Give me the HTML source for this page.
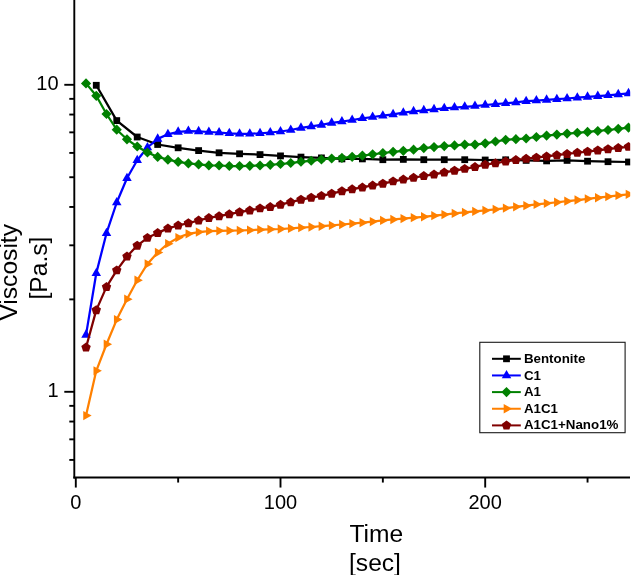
<!DOCTYPE html>
<html><head><meta charset="utf-8"><title>Viscosity vs Time</title>
<style>html,body{margin:0;padding:0;background:#fff}body{width:631px;height:575px;overflow:hidden}</style></head>
<body>
<svg width="631" height="575" viewBox="0 0 631 575" style="display:block;font-family:'Liberation Sans',sans-serif;will-change:transform">
<rect width="631" height="575" fill="#ffffff"/>
<defs><clipPath id="pc"><rect x="0" y="0" width="630.2" height="575"/></clipPath></defs><g clip-path="url(#pc)">
<path d="M96.27,85.30 L116.74,120.60 L137.21,137.00 L157.68,144.50 L178.15,147.80 L198.62,150.60 L219.09,152.80 L239.56,153.80 L260.03,154.60 L280.50,155.90 L300.97,157.10 L321.44,157.90 L341.91,158.90 L362.38,158.90 L382.85,159.70 L403.32,159.40 L423.79,159.70 L444.26,159.70 L464.73,159.70 L485.20,160.00 L505.67,159.80 L526.14,160.40 L546.61,160.90 L567.08,160.40 L587.55,161.20 L608.02,161.70 L628.49,162.00" fill="none" stroke="#000000" stroke-width="2.25" stroke-linejoin="round"/>
<rect x="92.87" y="81.90" width="6.8" height="6.8" fill="#000000"/>
<rect x="113.34" y="117.20" width="6.8" height="6.8" fill="#000000"/>
<rect x="133.81" y="133.60" width="6.8" height="6.8" fill="#000000"/>
<rect x="154.28" y="141.10" width="6.8" height="6.8" fill="#000000"/>
<rect x="174.75" y="144.40" width="6.8" height="6.8" fill="#000000"/>
<rect x="195.22" y="147.20" width="6.8" height="6.8" fill="#000000"/>
<rect x="215.69" y="149.40" width="6.8" height="6.8" fill="#000000"/>
<rect x="236.16" y="150.40" width="6.8" height="6.8" fill="#000000"/>
<rect x="256.63" y="151.20" width="6.8" height="6.8" fill="#000000"/>
<rect x="277.10" y="152.50" width="6.8" height="6.8" fill="#000000"/>
<rect x="297.57" y="153.70" width="6.8" height="6.8" fill="#000000"/>
<rect x="318.04" y="154.50" width="6.8" height="6.8" fill="#000000"/>
<rect x="338.51" y="155.50" width="6.8" height="6.8" fill="#000000"/>
<rect x="358.98" y="155.50" width="6.8" height="6.8" fill="#000000"/>
<rect x="379.45" y="156.30" width="6.8" height="6.8" fill="#000000"/>
<rect x="399.92" y="156.00" width="6.8" height="6.8" fill="#000000"/>
<rect x="420.39" y="156.30" width="6.8" height="6.8" fill="#000000"/>
<rect x="440.86" y="156.30" width="6.8" height="6.8" fill="#000000"/>
<rect x="461.33" y="156.30" width="6.8" height="6.8" fill="#000000"/>
<rect x="481.80" y="156.60" width="6.8" height="6.8" fill="#000000"/>
<rect x="502.27" y="156.40" width="6.8" height="6.8" fill="#000000"/>
<rect x="522.74" y="157.00" width="6.8" height="6.8" fill="#000000"/>
<rect x="543.21" y="157.50" width="6.8" height="6.8" fill="#000000"/>
<rect x="563.68" y="157.00" width="6.8" height="6.8" fill="#000000"/>
<rect x="584.15" y="157.80" width="6.8" height="6.8" fill="#000000"/>
<rect x="604.62" y="158.30" width="6.8" height="6.8" fill="#000000"/>
<rect x="625.09" y="158.60" width="6.8" height="6.8" fill="#000000"/>

<path d="M86.03,334.90 L96.27,273.20 L106.50,233.20 L116.74,202.50 L126.97,178.30 L137.21,160.30 L147.44,147.50 L157.68,138.90 L167.92,134.30 L178.15,131.90 L188.38,131.10 L198.62,131.40 L208.86,132.00 L219.09,132.50 L229.32,133.30 L239.56,133.80 L249.80,133.80 L260.03,133.30 L270.26,132.50 L280.50,131.50 L290.74,130.00 L300.97,127.90 L311.21,126.40 L321.44,124.90 L331.68,122.90 L341.91,121.60 L352.15,120.00 L362.38,118.30 L372.62,117.00 L382.85,115.70 L393.09,114.40 L403.32,112.70 L413.56,111.40 L423.79,110.40 L434.03,109.40 L444.26,108.30 L454.50,107.60 L464.73,106.80 L474.97,106.10 L485.20,105.00 L495.44,104.22 L505.67,103.25 L515.90,102.40 L526.14,101.20 L536.38,100.53 L546.61,99.90 L556.85,99.22 L567.08,98.50 L577.32,97.71 L587.55,96.90 L597.78,96.12 L608.02,95.30 L618.25,94.39 L628.49,93.40" fill="none" stroke="#0000ff" stroke-width="2.25" stroke-linejoin="round"/>
<polygon points="86.03,329.37 90.78,337.67 81.28,337.67" fill="#0000ff"/>
<polygon points="96.27,267.67 101.02,275.97 91.52,275.97" fill="#0000ff"/>
<polygon points="106.50,227.67 111.25,235.97 101.75,235.97" fill="#0000ff"/>
<polygon points="116.74,196.97 121.49,205.27 111.99,205.27" fill="#0000ff"/>
<polygon points="126.97,172.77 131.72,181.07 122.22,181.07" fill="#0000ff"/>
<polygon points="137.21,154.77 141.96,163.07 132.46,163.07" fill="#0000ff"/>
<polygon points="147.44,141.97 152.19,150.27 142.69,150.27" fill="#0000ff"/>
<polygon points="157.68,133.37 162.43,141.67 152.93,141.67" fill="#0000ff"/>
<polygon points="167.92,128.77 172.67,137.07 163.17,137.07" fill="#0000ff"/>
<polygon points="178.15,126.37 182.90,134.67 173.40,134.67" fill="#0000ff"/>
<polygon points="188.38,125.57 193.13,133.87 183.63,133.87" fill="#0000ff"/>
<polygon points="198.62,125.87 203.37,134.17 193.87,134.17" fill="#0000ff"/>
<polygon points="208.86,126.47 213.61,134.77 204.11,134.77" fill="#0000ff"/>
<polygon points="219.09,126.97 223.84,135.27 214.34,135.27" fill="#0000ff"/>
<polygon points="229.32,127.77 234.07,136.07 224.57,136.07" fill="#0000ff"/>
<polygon points="239.56,128.27 244.31,136.57 234.81,136.57" fill="#0000ff"/>
<polygon points="249.80,128.27 254.55,136.57 245.05,136.57" fill="#0000ff"/>
<polygon points="260.03,127.77 264.78,136.07 255.28,136.07" fill="#0000ff"/>
<polygon points="270.26,126.97 275.01,135.27 265.51,135.27" fill="#0000ff"/>
<polygon points="280.50,125.97 285.25,134.27 275.75,134.27" fill="#0000ff"/>
<polygon points="290.74,124.47 295.49,132.77 285.99,132.77" fill="#0000ff"/>
<polygon points="300.97,122.37 305.72,130.67 296.22,130.67" fill="#0000ff"/>
<polygon points="311.21,120.87 315.96,129.17 306.46,129.17" fill="#0000ff"/>
<polygon points="321.44,119.37 326.19,127.67 316.69,127.67" fill="#0000ff"/>
<polygon points="331.68,117.37 336.43,125.67 326.93,125.67" fill="#0000ff"/>
<polygon points="341.91,116.07 346.66,124.37 337.16,124.37" fill="#0000ff"/>
<polygon points="352.15,114.47 356.90,122.77 347.40,122.77" fill="#0000ff"/>
<polygon points="362.38,112.77 367.13,121.07 357.63,121.07" fill="#0000ff"/>
<polygon points="372.62,111.47 377.37,119.77 367.87,119.77" fill="#0000ff"/>
<polygon points="382.85,110.17 387.60,118.47 378.10,118.47" fill="#0000ff"/>
<polygon points="393.09,108.87 397.84,117.17 388.34,117.17" fill="#0000ff"/>
<polygon points="403.32,107.17 408.07,115.47 398.57,115.47" fill="#0000ff"/>
<polygon points="413.56,105.87 418.31,114.17 408.81,114.17" fill="#0000ff"/>
<polygon points="423.79,104.87 428.54,113.17 419.04,113.17" fill="#0000ff"/>
<polygon points="434.03,103.87 438.78,112.17 429.28,112.17" fill="#0000ff"/>
<polygon points="444.26,102.77 449.01,111.07 439.51,111.07" fill="#0000ff"/>
<polygon points="454.50,102.07 459.25,110.37 449.75,110.37" fill="#0000ff"/>
<polygon points="464.73,101.27 469.48,109.57 459.98,109.57" fill="#0000ff"/>
<polygon points="474.97,100.57 479.72,108.87 470.22,108.87" fill="#0000ff"/>
<polygon points="485.20,99.47 489.95,107.77 480.45,107.77" fill="#0000ff"/>
<polygon points="495.44,98.68 500.19,106.98 490.69,106.98" fill="#0000ff"/>
<polygon points="505.67,97.72 510.42,106.02 500.92,106.02" fill="#0000ff"/>
<polygon points="515.90,96.87 520.65,105.17 511.15,105.17" fill="#0000ff"/>
<polygon points="526.14,95.67 530.89,103.97 521.39,103.97" fill="#0000ff"/>
<polygon points="536.38,95.00 541.12,103.30 531.62,103.30" fill="#0000ff"/>
<polygon points="546.61,94.37 551.36,102.67 541.86,102.67" fill="#0000ff"/>
<polygon points="556.85,93.68 561.60,101.98 552.10,101.98" fill="#0000ff"/>
<polygon points="567.08,92.97 571.83,101.27 562.33,101.27" fill="#0000ff"/>
<polygon points="577.32,92.18 582.07,100.48 572.57,100.48" fill="#0000ff"/>
<polygon points="587.55,91.37 592.30,99.67 582.80,99.67" fill="#0000ff"/>
<polygon points="597.78,90.58 602.53,98.88 593.03,98.88" fill="#0000ff"/>
<polygon points="608.02,89.77 612.77,98.07 603.27,98.07" fill="#0000ff"/>
<polygon points="618.25,88.86 623.00,97.16 613.50,97.16" fill="#0000ff"/>
<polygon points="628.49,87.87 633.24,96.17 623.74,96.17" fill="#0000ff"/>

<path d="M86.03,83.40 L96.27,95.80 L106.50,114.00 L116.74,129.70 L126.97,139.30 L137.21,146.50 L147.44,152.50 L157.68,156.90 L167.92,159.70 L178.15,161.80 L188.38,163.40 L198.62,164.40 L208.86,165.40 L219.09,165.50 L229.32,166.00 L239.56,166.00 L249.80,165.80 L260.03,165.50 L270.26,164.80 L280.50,164.00 L290.74,163.02 L300.97,161.74 L311.21,160.76 L321.44,159.48 L331.68,158.50 L341.91,157.90 L352.15,156.80 L362.38,155.60 L372.62,154.30 L382.85,153.00 L393.09,151.80 L403.32,150.80 L413.56,149.70 L423.79,148.10 L434.03,147.12 L444.26,146.05 L454.50,145.38 L464.73,144.60 L474.97,144.60 L485.20,143.30 L495.44,141.50 L505.67,139.80 L515.90,139.18 L526.14,138.50 L536.38,136.99 L546.61,135.60 L556.85,134.57 L567.08,133.60 L577.32,132.76 L587.55,131.90 L597.78,130.99 L608.02,130.00 L618.25,128.87 L628.49,127.60" fill="none" stroke="#008000" stroke-width="2.25" stroke-linejoin="round"/>
<polygon points="86.03,78.30 91.13,83.40 86.03,88.50 80.94,83.40" fill="#008000"/>
<polygon points="96.27,90.70 101.37,95.80 96.27,100.90 91.17,95.80" fill="#008000"/>
<polygon points="106.50,108.90 111.60,114.00 106.50,119.10 101.41,114.00" fill="#008000"/>
<polygon points="116.74,124.60 121.84,129.70 116.74,134.80 111.64,129.70" fill="#008000"/>
<polygon points="126.97,134.20 132.07,139.30 126.97,144.40 121.88,139.30" fill="#008000"/>
<polygon points="137.21,141.40 142.31,146.50 137.21,151.60 132.11,146.50" fill="#008000"/>
<polygon points="147.44,147.40 152.54,152.50 147.44,157.60 142.34,152.50" fill="#008000"/>
<polygon points="157.68,151.80 162.78,156.90 157.68,162.00 152.58,156.90" fill="#008000"/>
<polygon points="167.92,154.60 173.02,159.70 167.92,164.80 162.82,159.70" fill="#008000"/>
<polygon points="178.15,156.70 183.25,161.80 178.15,166.90 173.05,161.80" fill="#008000"/>
<polygon points="188.38,158.30 193.48,163.40 188.38,168.50 183.28,163.40" fill="#008000"/>
<polygon points="198.62,159.30 203.72,164.40 198.62,169.50 193.52,164.40" fill="#008000"/>
<polygon points="208.86,160.30 213.96,165.40 208.86,170.50 203.76,165.40" fill="#008000"/>
<polygon points="219.09,160.40 224.19,165.50 219.09,170.60 213.99,165.50" fill="#008000"/>
<polygon points="229.32,160.90 234.42,166.00 229.32,171.10 224.22,166.00" fill="#008000"/>
<polygon points="239.56,160.90 244.66,166.00 239.56,171.10 234.46,166.00" fill="#008000"/>
<polygon points="249.80,160.70 254.90,165.80 249.80,170.90 244.70,165.80" fill="#008000"/>
<polygon points="260.03,160.40 265.13,165.50 260.03,170.60 254.93,165.50" fill="#008000"/>
<polygon points="270.26,159.70 275.37,164.80 270.26,169.90 265.16,164.80" fill="#008000"/>
<polygon points="280.50,158.90 285.60,164.00 280.50,169.10 275.40,164.00" fill="#008000"/>
<polygon points="290.74,157.92 295.84,163.02 290.74,168.12 285.63,163.02" fill="#008000"/>
<polygon points="300.97,156.64 306.07,161.74 300.97,166.84 295.87,161.74" fill="#008000"/>
<polygon points="311.21,155.66 316.31,160.76 311.21,165.86 306.11,160.76" fill="#008000"/>
<polygon points="321.44,154.38 326.54,159.48 321.44,164.58 316.34,159.48" fill="#008000"/>
<polygon points="331.68,153.40 336.78,158.50 331.68,163.60 326.57,158.50" fill="#008000"/>
<polygon points="341.91,152.80 347.01,157.90 341.91,163.00 336.81,157.90" fill="#008000"/>
<polygon points="352.15,151.70 357.25,156.80 352.15,161.90 347.05,156.80" fill="#008000"/>
<polygon points="362.38,150.50 367.48,155.60 362.38,160.70 357.28,155.60" fill="#008000"/>
<polygon points="372.62,149.20 377.72,154.30 372.62,159.40 367.51,154.30" fill="#008000"/>
<polygon points="382.85,147.90 387.95,153.00 382.85,158.10 377.75,153.00" fill="#008000"/>
<polygon points="393.09,146.70 398.19,151.80 393.09,156.90 387.99,151.80" fill="#008000"/>
<polygon points="403.32,145.70 408.42,150.80 403.32,155.90 398.22,150.80" fill="#008000"/>
<polygon points="413.56,144.60 418.66,149.70 413.56,154.80 408.46,149.70" fill="#008000"/>
<polygon points="423.79,143.00 428.89,148.10 423.79,153.20 418.69,148.10" fill="#008000"/>
<polygon points="434.03,142.03 439.13,147.12 434.03,152.22 428.93,147.12" fill="#008000"/>
<polygon points="444.26,140.95 449.36,146.05 444.26,151.15 439.16,146.05" fill="#008000"/>
<polygon points="454.50,140.28 459.60,145.38 454.50,150.47 449.40,145.38" fill="#008000"/>
<polygon points="464.73,139.50 469.83,144.60 464.73,149.70 459.63,144.60" fill="#008000"/>
<polygon points="474.97,139.50 480.07,144.60 474.97,149.70 469.87,144.60" fill="#008000"/>
<polygon points="485.20,138.20 490.30,143.30 485.20,148.40 480.10,143.30" fill="#008000"/>
<polygon points="495.44,136.40 500.54,141.50 495.44,146.60 490.34,141.50" fill="#008000"/>
<polygon points="505.67,134.70 510.77,139.80 505.67,144.90 500.57,139.80" fill="#008000"/>
<polygon points="515.90,134.08 521.00,139.18 515.90,144.28 510.80,139.18" fill="#008000"/>
<polygon points="526.14,133.40 531.24,138.50 526.14,143.60 521.04,138.50" fill="#008000"/>
<polygon points="536.38,131.89 541.48,136.99 536.38,142.09 531.27,136.99" fill="#008000"/>
<polygon points="546.61,130.50 551.71,135.60 546.61,140.70 541.51,135.60" fill="#008000"/>
<polygon points="556.85,129.47 561.95,134.57 556.85,139.67 551.75,134.57" fill="#008000"/>
<polygon points="567.08,128.50 572.18,133.60 567.08,138.70 561.98,133.60" fill="#008000"/>
<polygon points="577.32,127.66 582.42,132.76 577.32,137.86 572.22,132.76" fill="#008000"/>
<polygon points="587.55,126.80 592.65,131.90 587.55,137.00 582.45,131.90" fill="#008000"/>
<polygon points="597.78,125.89 602.88,130.99 597.78,136.09 592.68,130.99" fill="#008000"/>
<polygon points="608.02,124.90 613.12,130.00 608.02,135.10 602.92,130.00" fill="#008000"/>
<polygon points="618.25,123.77 623.36,128.87 618.25,133.97 613.15,128.87" fill="#008000"/>
<polygon points="628.49,122.50 633.59,127.60 628.49,132.70 623.39,127.60" fill="#008000"/>

<path d="M86.03,415.60 L96.27,370.83 L106.50,344.26 L116.74,319.59 L126.97,299.21 L137.21,280.24 L147.44,263.97 L157.68,252.50 L167.92,243.70 L178.15,237.60 L188.38,233.80 L198.62,232.10 L208.86,231.10 L219.09,230.80 L229.32,230.66 L239.56,230.50 L249.80,230.14 L260.03,229.70 L270.26,229.37 L280.50,229.00 L290.74,228.40 L300.97,227.68 L311.21,227.00 L321.44,226.24 L331.68,225.40 L341.91,224.50 L352.15,223.61 L362.38,222.66 L372.62,221.54 L382.85,220.43 L393.09,219.49 L403.32,218.59 L413.56,217.70 L423.79,216.76 L434.03,215.66 L444.26,214.53 L454.50,213.45 L464.73,212.43 L474.97,211.45 L485.20,210.46 L495.44,209.34 L505.67,208.11 L515.90,206.86 L526.14,205.63 L536.38,204.47 L546.61,203.34 L556.85,202.25 L567.08,201.16 L577.32,200.02 L587.55,198.87 L597.78,197.73 L608.02,196.59 L618.25,195.44 L628.49,194.30" fill="none" stroke="#ff8000" stroke-width="2.25" stroke-linejoin="round"/>
<polygon points="91.63,415.60 83.23,410.95 83.23,420.25" fill="#ff8000"/>
<polygon points="101.87,370.83 93.47,366.18 93.47,375.48" fill="#ff8000"/>
<polygon points="112.10,344.26 103.70,339.61 103.70,348.91" fill="#ff8000"/>
<polygon points="122.34,319.59 113.94,314.94 113.94,324.24" fill="#ff8000"/>
<polygon points="132.57,299.21 124.17,294.56 124.17,303.86" fill="#ff8000"/>
<polygon points="142.81,280.24 134.41,275.59 134.41,284.89" fill="#ff8000"/>
<polygon points="153.04,263.97 144.64,259.32 144.64,268.62" fill="#ff8000"/>
<polygon points="163.28,252.50 154.88,247.85 154.88,257.15" fill="#ff8000"/>
<polygon points="173.52,243.70 165.12,239.05 165.12,248.35" fill="#ff8000"/>
<polygon points="183.75,237.60 175.35,232.95 175.35,242.25" fill="#ff8000"/>
<polygon points="193.98,233.80 185.58,229.15 185.58,238.45" fill="#ff8000"/>
<polygon points="204.22,232.10 195.82,227.45 195.82,236.75" fill="#ff8000"/>
<polygon points="214.46,231.10 206.06,226.45 206.06,235.75" fill="#ff8000"/>
<polygon points="224.69,230.80 216.29,226.15 216.29,235.45" fill="#ff8000"/>
<polygon points="234.92,230.66 226.52,226.01 226.52,235.31" fill="#ff8000"/>
<polygon points="245.16,230.50 236.76,225.85 236.76,235.15" fill="#ff8000"/>
<polygon points="255.40,230.14 247.00,225.49 247.00,234.79" fill="#ff8000"/>
<polygon points="265.63,229.70 257.23,225.05 257.23,234.35" fill="#ff8000"/>
<polygon points="275.87,229.37 267.46,224.72 267.46,234.02" fill="#ff8000"/>
<polygon points="286.10,229.00 277.70,224.35 277.70,233.65" fill="#ff8000"/>
<polygon points="296.34,228.40 287.94,223.75 287.94,233.05" fill="#ff8000"/>
<polygon points="306.57,227.68 298.17,223.03 298.17,232.33" fill="#ff8000"/>
<polygon points="316.81,227.00 308.41,222.35 308.41,231.65" fill="#ff8000"/>
<polygon points="327.04,226.24 318.64,221.59 318.64,230.89" fill="#ff8000"/>
<polygon points="337.28,225.40 328.88,220.75 328.88,230.05" fill="#ff8000"/>
<polygon points="347.51,224.50 339.11,219.85 339.11,229.15" fill="#ff8000"/>
<polygon points="357.75,223.61 349.35,218.96 349.35,228.26" fill="#ff8000"/>
<polygon points="367.98,222.66 359.58,218.01 359.58,227.31" fill="#ff8000"/>
<polygon points="378.22,221.54 369.81,216.89 369.81,226.19" fill="#ff8000"/>
<polygon points="388.45,220.43 380.05,215.78 380.05,225.08" fill="#ff8000"/>
<polygon points="398.69,219.49 390.29,214.84 390.29,224.14" fill="#ff8000"/>
<polygon points="408.92,218.59 400.52,213.94 400.52,223.24" fill="#ff8000"/>
<polygon points="419.16,217.70 410.76,213.05 410.76,222.35" fill="#ff8000"/>
<polygon points="429.39,216.76 420.99,212.11 420.99,221.41" fill="#ff8000"/>
<polygon points="439.63,215.66 431.23,211.01 431.23,220.31" fill="#ff8000"/>
<polygon points="449.86,214.53 441.46,209.88 441.46,219.18" fill="#ff8000"/>
<polygon points="460.10,213.45 451.70,208.80 451.70,218.10" fill="#ff8000"/>
<polygon points="470.33,212.43 461.93,207.78 461.93,217.08" fill="#ff8000"/>
<polygon points="480.57,211.45 472.17,206.80 472.17,216.10" fill="#ff8000"/>
<polygon points="490.80,210.46 482.40,205.81 482.40,215.11" fill="#ff8000"/>
<polygon points="501.04,209.34 492.64,204.69 492.64,213.99" fill="#ff8000"/>
<polygon points="511.27,208.11 502.87,203.46 502.87,212.76" fill="#ff8000"/>
<polygon points="521.50,206.86 513.11,202.21 513.11,211.51" fill="#ff8000"/>
<polygon points="531.74,205.63 523.34,200.98 523.34,210.28" fill="#ff8000"/>
<polygon points="541.98,204.47 533.58,199.82 533.58,209.12" fill="#ff8000"/>
<polygon points="552.21,203.34 543.81,198.69 543.81,207.99" fill="#ff8000"/>
<polygon points="562.45,202.25 554.05,197.60 554.05,206.90" fill="#ff8000"/>
<polygon points="572.68,201.16 564.28,196.51 564.28,205.81" fill="#ff8000"/>
<polygon points="582.92,200.02 574.52,195.37 574.52,204.67" fill="#ff8000"/>
<polygon points="593.15,198.87 584.75,194.22 584.75,203.52" fill="#ff8000"/>
<polygon points="603.38,197.73 594.99,193.08 594.99,202.38" fill="#ff8000"/>
<polygon points="613.62,196.59 605.22,191.94 605.22,201.24" fill="#ff8000"/>
<polygon points="623.86,195.44 615.46,190.79 615.46,200.09" fill="#ff8000"/>
<polygon points="634.09,194.30 625.69,189.65 625.69,198.95" fill="#ff8000"/>

<path d="M86.03,347.50 L96.27,310.10 L106.50,286.90 L116.74,270.30 L126.97,256.50 L137.21,245.60 L147.44,237.80 L157.68,232.90 L167.92,228.40 L178.15,225.50 L188.38,223.10 L198.62,220.50 L208.86,217.90 L219.09,216.20 L229.32,214.20 L239.56,212.10 L249.80,210.40 L260.03,208.30 L270.26,206.90 L280.50,204.70 L290.74,202.20 L300.97,199.60 L311.21,197.60 L321.44,195.80 L331.68,193.60 L341.91,191.10 L352.15,189.20 L362.38,187.40 L372.62,185.40 L382.85,183.60 L393.09,181.30 L403.32,179.50 L413.56,177.70 L423.79,176.00 L434.03,174.40 L444.26,172.40 L454.50,170.60 L464.73,168.80 L474.97,166.88 L485.20,164.65 L495.44,163.22 L505.67,161.50 L515.90,160.01 L526.14,158.70 L536.38,157.53 L546.61,156.40 L556.85,155.15 L567.08,153.90 L577.32,152.75 L587.55,151.60 L597.78,150.35 L608.02,149.10 L618.25,147.93 L628.49,146.80" fill="none" stroke="#800000" stroke-width="2.25" stroke-linejoin="round"/>
<polygon points="86.03,342.60 90.74,346.02 88.94,351.55 83.13,351.55 81.33,346.02" fill="#800000"/>
<polygon points="96.27,305.20 100.98,308.62 99.18,314.15 93.36,314.15 91.56,308.62" fill="#800000"/>
<polygon points="106.50,282.00 111.21,285.42 109.41,290.95 103.60,290.95 101.80,285.42" fill="#800000"/>
<polygon points="116.74,265.40 121.45,268.82 119.65,274.35 113.83,274.35 112.03,268.82" fill="#800000"/>
<polygon points="126.97,251.60 131.68,255.02 129.88,260.55 124.07,260.55 122.27,255.02" fill="#800000"/>
<polygon points="137.21,240.70 141.92,244.12 140.12,249.65 134.30,249.65 132.50,244.12" fill="#800000"/>
<polygon points="147.44,232.90 152.15,236.32 150.35,241.85 144.54,241.85 142.74,236.32" fill="#800000"/>
<polygon points="157.68,228.00 162.39,231.42 160.59,236.95 154.77,236.95 152.97,231.42" fill="#800000"/>
<polygon points="167.92,223.50 172.62,226.92 170.82,232.45 165.01,232.45 163.21,226.92" fill="#800000"/>
<polygon points="178.15,220.60 182.86,224.02 181.06,229.55 175.24,229.55 173.44,224.02" fill="#800000"/>
<polygon points="188.38,218.20 193.09,221.62 191.29,227.15 185.48,227.15 183.68,221.62" fill="#800000"/>
<polygon points="198.62,215.60 203.33,219.02 201.53,224.55 195.71,224.55 193.91,219.02" fill="#800000"/>
<polygon points="208.86,213.00 213.56,216.42 211.76,221.95 205.95,221.95 204.15,216.42" fill="#800000"/>
<polygon points="219.09,211.30 223.80,214.72 222.00,220.25 216.18,220.25 214.38,214.72" fill="#800000"/>
<polygon points="229.32,209.30 234.03,212.72 232.23,218.25 226.42,218.25 224.62,212.72" fill="#800000"/>
<polygon points="239.56,207.20 244.27,210.62 242.47,216.15 236.65,216.15 234.85,210.62" fill="#800000"/>
<polygon points="249.80,205.50 254.50,208.92 252.70,214.45 246.89,214.45 245.09,208.92" fill="#800000"/>
<polygon points="260.03,203.40 264.74,206.82 262.94,212.35 257.12,212.35 255.32,206.82" fill="#800000"/>
<polygon points="270.26,202.00 274.97,205.42 273.17,210.95 267.36,210.95 265.56,205.42" fill="#800000"/>
<polygon points="280.50,199.80 285.21,203.22 283.41,208.75 277.59,208.75 275.79,203.22" fill="#800000"/>
<polygon points="290.74,197.30 295.44,200.72 293.64,206.25 287.83,206.25 286.03,200.72" fill="#800000"/>
<polygon points="300.97,194.70 305.68,198.12 303.88,203.65 298.06,203.65 296.26,198.12" fill="#800000"/>
<polygon points="311.21,192.70 315.91,196.12 314.11,201.65 308.30,201.65 306.50,196.12" fill="#800000"/>
<polygon points="321.44,190.90 326.15,194.32 324.35,199.85 318.53,199.85 316.73,194.32" fill="#800000"/>
<polygon points="331.68,188.70 336.38,192.12 334.58,197.65 328.77,197.65 326.97,192.12" fill="#800000"/>
<polygon points="341.91,186.20 346.62,189.62 344.82,195.15 339.00,195.15 337.20,189.62" fill="#800000"/>
<polygon points="352.15,184.30 356.85,187.72 355.05,193.25 349.24,193.25 347.44,187.72" fill="#800000"/>
<polygon points="362.38,182.50 367.09,185.92 365.29,191.45 359.47,191.45 357.67,185.92" fill="#800000"/>
<polygon points="372.62,180.50 377.32,183.92 375.52,189.45 369.71,189.45 367.91,183.92" fill="#800000"/>
<polygon points="382.85,178.70 387.56,182.12 385.76,187.65 379.94,187.65 378.14,182.12" fill="#800000"/>
<polygon points="393.09,176.40 397.79,179.82 395.99,185.35 390.18,185.35 388.38,179.82" fill="#800000"/>
<polygon points="403.32,174.60 408.03,178.02 406.23,183.55 400.41,183.55 398.61,178.02" fill="#800000"/>
<polygon points="413.56,172.80 418.26,176.22 416.46,181.75 410.65,181.75 408.85,176.22" fill="#800000"/>
<polygon points="423.79,171.10 428.50,174.52 426.70,180.05 420.88,180.05 419.08,174.52" fill="#800000"/>
<polygon points="434.03,169.50 438.73,172.92 436.93,178.45 431.12,178.45 429.32,172.92" fill="#800000"/>
<polygon points="444.26,167.50 448.97,170.92 447.17,176.45 441.35,176.45 439.55,170.92" fill="#800000"/>
<polygon points="454.50,165.70 459.20,169.12 457.40,174.65 451.59,174.65 449.79,169.12" fill="#800000"/>
<polygon points="464.73,163.90 469.44,167.32 467.64,172.85 461.82,172.85 460.02,167.32" fill="#800000"/>
<polygon points="474.97,161.98 479.67,165.40 477.87,170.93 472.06,170.93 470.26,165.40" fill="#800000"/>
<polygon points="485.20,159.75 489.91,163.17 488.11,168.70 482.29,168.70 480.49,163.17" fill="#800000"/>
<polygon points="495.44,158.33 500.14,161.75 498.34,167.28 492.53,167.28 490.73,161.75" fill="#800000"/>
<polygon points="505.67,156.60 510.38,160.02 508.58,165.55 502.76,165.55 500.96,160.02" fill="#800000"/>
<polygon points="515.90,155.11 520.61,158.53 518.81,164.07 513.00,164.07 511.20,158.53" fill="#800000"/>
<polygon points="526.14,153.80 530.85,157.22 529.05,162.75 523.23,162.75 521.43,157.22" fill="#800000"/>
<polygon points="536.38,152.63 541.08,156.05 539.28,161.59 533.47,161.59 531.67,156.05" fill="#800000"/>
<polygon points="546.61,151.50 551.32,154.92 549.52,160.45 543.70,160.45 541.90,154.92" fill="#800000"/>
<polygon points="556.85,150.25 561.55,153.67 559.75,159.20 553.94,159.20 552.14,153.67" fill="#800000"/>
<polygon points="567.08,149.00 571.79,152.42 569.99,157.95 564.17,157.95 562.37,152.42" fill="#800000"/>
<polygon points="577.32,147.85 582.02,151.27 580.22,156.80 574.41,156.80 572.61,151.27" fill="#800000"/>
<polygon points="587.55,146.70 592.26,150.12 590.46,155.65 584.64,155.65 582.84,150.12" fill="#800000"/>
<polygon points="597.78,145.45 602.49,148.87 600.69,154.40 594.88,154.40 593.08,148.87" fill="#800000"/>
<polygon points="608.02,144.20 612.73,147.62 610.93,153.15 605.11,153.15 603.31,147.62" fill="#800000"/>
<polygon points="618.25,143.03 622.96,146.45 621.16,151.98 615.35,151.98 613.55,146.45" fill="#800000"/>
<polygon points="628.49,141.90 633.20,145.32 631.40,150.85 625.58,150.85 623.78,145.32" fill="#800000"/>

</g>
<line x1="74.3" y1="0" x2="74.3" y2="478.5" stroke="#000" stroke-width="1.9"/>
<line x1="73.35" y1="477.55" x2="630" y2="477.55" stroke="#000" stroke-width="1.9"/>
<line x1="69.30" y1="459.91" x2="74.3" y2="459.91" stroke="#000" stroke-width="1.9"/>
<line x1="69.30" y1="439.35" x2="74.3" y2="439.35" stroke="#000" stroke-width="1.9"/>
<line x1="69.30" y1="421.55" x2="74.3" y2="421.55" stroke="#000" stroke-width="1.9"/>
<line x1="69.30" y1="405.85" x2="74.3" y2="405.85" stroke="#000" stroke-width="1.9"/>
<line x1="64.30" y1="391.80" x2="74.3" y2="391.80" stroke="#000" stroke-width="1.9"/>
<line x1="69.30" y1="299.38" x2="74.3" y2="299.38" stroke="#000" stroke-width="1.9"/>
<line x1="69.30" y1="245.32" x2="74.3" y2="245.32" stroke="#000" stroke-width="1.9"/>
<line x1="69.30" y1="206.97" x2="74.3" y2="206.97" stroke="#000" stroke-width="1.9"/>
<line x1="69.30" y1="177.22" x2="74.3" y2="177.22" stroke="#000" stroke-width="1.9"/>
<line x1="69.30" y1="152.91" x2="74.3" y2="152.91" stroke="#000" stroke-width="1.9"/>
<line x1="69.30" y1="132.35" x2="74.3" y2="132.35" stroke="#000" stroke-width="1.9"/>
<line x1="69.30" y1="114.55" x2="74.3" y2="114.55" stroke="#000" stroke-width="1.9"/>
<line x1="69.30" y1="98.85" x2="74.3" y2="98.85" stroke="#000" stroke-width="1.9"/>
<line x1="64.30" y1="84.80" x2="74.3" y2="84.80" stroke="#000" stroke-width="1.9"/>
<line x1="75.80" y1="477.55" x2="75.80" y2="487.55" stroke="#000" stroke-width="1.9"/>
<line x1="178.15" y1="477.55" x2="178.15" y2="482.55" stroke="#000" stroke-width="1.9"/>
<line x1="280.50" y1="477.55" x2="280.50" y2="487.55" stroke="#000" stroke-width="1.9"/>
<line x1="382.85" y1="477.55" x2="382.85" y2="482.55" stroke="#000" stroke-width="1.9"/>
<line x1="485.20" y1="477.55" x2="485.20" y2="487.55" stroke="#000" stroke-width="1.9"/>
<line x1="587.55" y1="477.55" x2="587.55" y2="482.55" stroke="#000" stroke-width="1.9"/>
<text x="58.6" y="90.2" font-size="20" text-anchor="end">10</text>
<text x="58.6" y="397.2" font-size="20" text-anchor="end">1</text>
<text x="75.8" y="508.7" font-size="20" text-anchor="middle">0</text>
<text x="280.5" y="508.7" font-size="20" text-anchor="middle">100</text>
<text x="485.2" y="508.7" font-size="20" text-anchor="middle">200</text>
<text transform="translate(16.9,272.3) rotate(-90)" font-size="24.6" text-anchor="middle">Viscosity</text>
<text transform="translate(47.0,268.1) rotate(-90)" font-size="24.6" text-anchor="middle">[Pa.s]</text>
<text x="349.4" y="541.7" font-size="24.6">Time</text>
<text x="349.0" y="570.9" font-size="24.6">[sec]</text>
<rect x="479.8" y="342.3" width="145.3" height="90.4" fill="#fff" stroke="#1a1a1a" stroke-width="1.1"/>
<line x1="492" y1="358.80" x2="520.8" y2="358.80" stroke="#000000" stroke-width="2.0"/>
<rect x="503.10" y="355.40" width="6.8" height="6.8" fill="#000000"/>
<text transform="translate(523.9,363.10) scale(1.085,1)" font-size="12.3" font-weight="bold">Bentonite</text>
<line x1="492" y1="375.45" x2="520.8" y2="375.45" stroke="#0000ff" stroke-width="2.0"/>
<polygon points="506.50,369.92 511.25,378.22 501.75,378.22" fill="#0000ff"/>
<text transform="translate(523.9,379.58) scale(1.085,1)" font-size="12.3" font-weight="bold">C1</text>
<line x1="492" y1="392.10" x2="520.8" y2="392.10" stroke="#008000" stroke-width="2.0"/>
<polygon points="506.50,387.00 511.60,392.10 506.50,397.20 501.40,392.10" fill="#008000"/>
<text transform="translate(523.9,396.06) scale(1.085,1)" font-size="12.3" font-weight="bold">A1</text>
<line x1="492" y1="408.75" x2="520.8" y2="408.75" stroke="#ff8000" stroke-width="2.0"/>
<polygon points="512.10,408.75 503.70,404.10 503.70,413.40" fill="#ff8000"/>
<text transform="translate(523.9,412.54) scale(1.085,1)" font-size="12.3" font-weight="bold">A1C1</text>
<line x1="492" y1="425.40" x2="520.8" y2="425.40" stroke="#800000" stroke-width="2.0"/>
<polygon points="506.50,420.50 511.21,423.92 509.41,429.45 503.59,429.45 501.79,423.92" fill="#800000"/>
<text transform="translate(523.9,429.02) scale(1.085,1)" font-size="12.3" font-weight="bold">A1C1+Nano1%</text>
</svg>
</body></html>
